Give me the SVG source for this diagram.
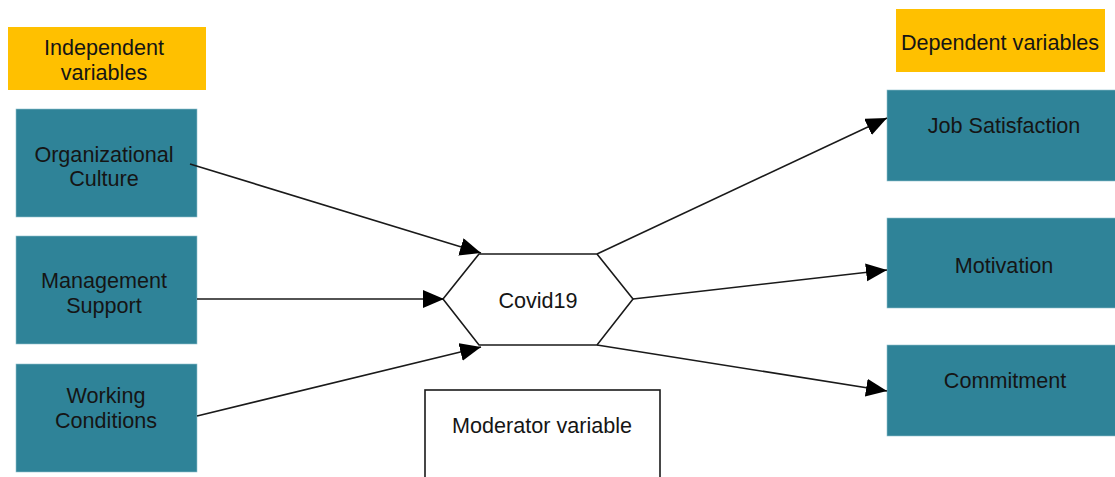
<svg xmlns="http://www.w3.org/2000/svg" width="1115" height="477" viewBox="0 0 1115 477">
<style>
.lbl{fill:#FFC000}
.var{fill:#2F8398;stroke:#8fc0cc;stroke-width:0.6}
text{font-family:"Liberation Sans",Arial,sans-serif;font-size:21.6px;fill:#151515;text-anchor:middle}
.edge{stroke:#1a1a1a;stroke-width:1.6;fill:none;marker-end:url(#ah)}
</style>
<defs>
<marker id="ah" markerUnits="userSpaceOnUse" markerWidth="22" markerHeight="20" refX="21" refY="9" orient="auto">
<path d="M0,0 L21,9 L0,18 Z" fill="#000"/>
</marker>
</defs>
<rect width="1115" height="477" fill="#fff"/>
<g id="independent-label"><rect class="lbl" x="8" y="27" width="198" height="63"/><text x="104" y="55">Independent</text><text x="104" y="80">variables</text></g>
<g id="dependent-label"><rect class="lbl" x="896" y="9" width="209" height="63"/><text x="1000" y="50">Dependent variables</text></g>
<g id="org-culture"><rect class="var" x="16" y="109" width="181" height="108"/><text x="104" y="162">Organizational</text><text x="104" y="186">Culture</text></g>
<g id="mgmt-support"><rect class="var" x="16" y="236" width="181" height="108"/><text x="104" y="288">Management</text><text x="104" y="313">Support</text></g>
<g id="working-conditions"><rect class="var" x="16" y="364" width="181" height="108"/><text x="106" y="403">Working</text><text x="106" y="428">Conditions</text></g>
<g id="job-satisfaction"><rect class="var" x="887" y="90" width="235" height="91"/><text x="1004" y="133">Job Satisfaction</text></g>
<g id="motivation"><rect class="var" x="887" y="218" width="235" height="90"/><text x="1004" y="273">Motivation</text></g>
<g id="commitment"><rect class="var" x="887" y="345" width="235" height="91"/><text x="1005" y="388">Commitment</text></g>
<g id="covid19"><polygon points="443,299 479,254 597,254 633,299 597,345 479,345" fill="#fff" stroke="#1a1a1a" stroke-width="1.6"/><text x="538" y="308">Covid19</text></g>
<g id="moderator"><rect x="425" y="390" width="235" height="100" fill="#fff" stroke="#1a1a1a" stroke-width="1.6"/><text x="542" y="433">Moderator variable</text></g>
<g id="connectors">
<line class="edge" x1="190" y1="164" x2="481" y2="253"/>
<line class="edge" x1="197" y1="299" x2="444" y2="299"/>
<line class="edge" x1="197" y1="416" x2="481" y2="347"/>
<line class="edge" x1="597" y1="254" x2="887" y2="118"/>
<line class="edge" x1="633" y1="299" x2="887" y2="270"/>
<line class="edge" x1="597" y1="345" x2="887" y2="391"/>
</g>
</svg>
